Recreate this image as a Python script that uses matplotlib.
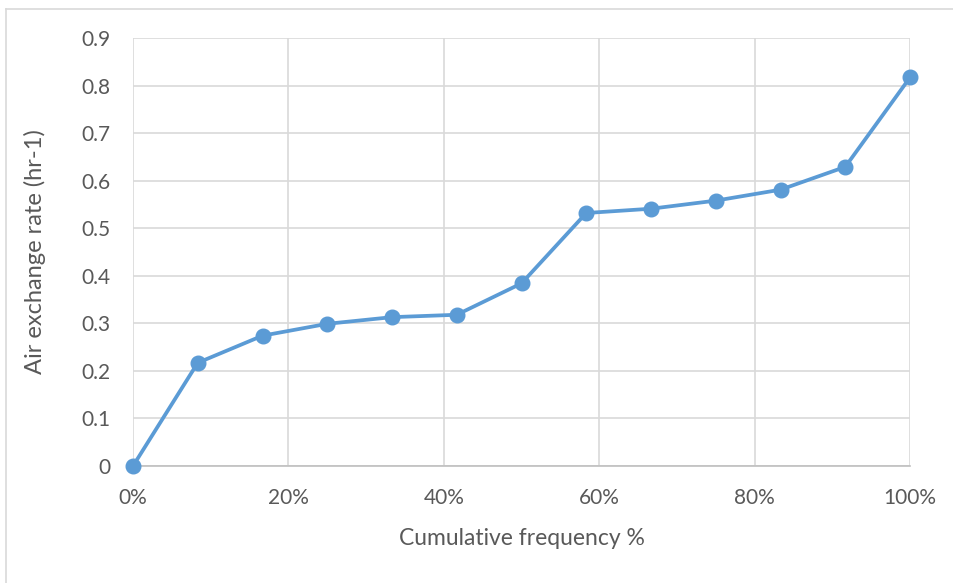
import matplotlib
matplotlib.use("Agg")
import matplotlib.pyplot as plt
from matplotlib.lines import Line2D
from matplotlib.ticker import FuncFormatter

# cumulative frequency (fraction) vs air exchange rate
freq = [0, 1/12, 2/12, 3/12, 4/12, 5/12, 6/12, 7/12, 8/12, 9/12, 10/12, 11/12, 1.0]
ach = [0.0, 0.217, 0.274, 0.299, 0.313, 0.318, 0.384, 0.532, 0.541, 0.558, 0.581, 0.629, 0.817]
x_ticks = [0, 0.2, 0.4, 0.6, 0.8, 1.0]
y_ticks = [0, 0.1, 0.2, 0.3, 0.4, 0.5, 0.6, 0.7, 0.8, 0.9]

BLUE, GRID, TXT = "#5B9BD5", "#D9D9D9", "#595959"
plt.rcParams["font.family"] = ["Lato", "DejaVu Sans"]

fig = plt.figure(figsize=(9.54, 5.83), dpi=100)
ax = fig.add_axes([133/954, 1 - 466/583, 777/954, 428/583])

ax.plot(freq, ach, color=BLUE, lw=2.7, marker="o", ms=10.5, zorder=3, clip_on=False)

ax.set_xlim(0, 1)
ax.set_ylim(0, 0.9)
ax.set_xticks(x_ticks)
ax.set_yticks(y_ticks)
ax.xaxis.set_major_formatter(FuncFormatter(lambda v, _: f"{v*100:.0f}%"))
ax.yaxis.set_major_formatter(FuncFormatter(lambda v, _: "0" if v == 0 else f"{v:.1f}"))
ax.grid(True, color=GRID, lw=1.2)
ax.set_axisbelow(True)
ax.tick_params(length=0, labelsize=15, colors=TXT)
ax.tick_params(axis="x", pad=16)
ax.tick_params(axis="y", pad=16)
for sp in ("top", "right", "left"):
    ax.spines[sp].set_visible(False)
ax.spines["bottom"].set_color("#BFBFBF")
ax.spines["bottom"].set_linewidth(1.2)

ax.set_xlabel("Cumulative frequency %", fontsize=16.5, color=TXT, labelpad=14)
ax.set_ylabel("Air exchange rate (hr-1)", fontsize=17, color=TXT, labelpad=26)

# chart-area outline (top and left edges)
fig.add_artist(Line2D([6/954, 6/954], [0, 1 - 9/583], color="#D9D9D9", lw=1.2))
fig.add_artist(Line2D([6/954, 1], [1 - 9/583, 1 - 9/583], color="#D9D9D9", lw=1.2))

fig.savefig("out.png", dpi=100, facecolor="white")
